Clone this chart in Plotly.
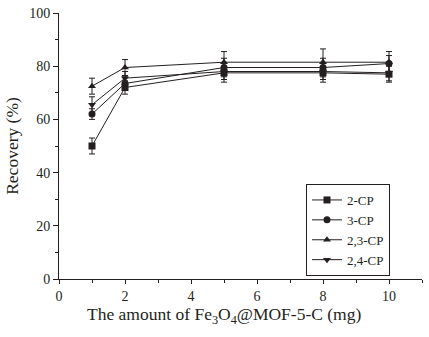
import plotly.graph_objects as go

x_mg = [1, 2, 5, 8, 10]
series_names = ["2-CP", "3-CP", "2,3-CP", "2,4-CP"]
cp2 = [50.0, 72.0, 77.5, 77.5, 77.0]
cp3 = [62.0, 73.5, 79.5, 79.5, 81.0]
cp23 = [72.5, 79.5, 81.5, 81.5, 81.5]
cp24 = [65.5, 75.5, 78.0, 78.0, 77.5]
err2 = [3.0, 2.5, 3.5, 3.5, 3.0]
err3 = [2.0, 2.5, 3.5, 3.5, 3.0]
err23 = [3.0, 3.0, 4.0, 5.0, 4.0]
err24 = [3.0, 2.5, 3.0, 3.0, 3.0]

symbols = ["square", "circle", "triangle-up", "triangle-down"]
values = [cp2, cp3, cp23, cp24]
errors = [err2, err3, err23, err24]

ink = "#231f20"
fig = go.Figure()
for name, sym, y, e in zip(series_names, symbols, values, errors):
    fig.add_trace(go.Scatter(
        x=x_mg, y=y, name=name, mode="lines+markers",
        line=dict(color=ink, width=1),
        marker=dict(symbol=sym, size=7, color=ink),
        error_y=dict(type="data", array=e, visible=True, color=ink, thickness=1, width=3),
    ))

font = "Liberation Serif, Times New Roman, serif"
L, R, T, B = 59, 7, 13, 58
W, H = 429, 337
pw = W - L - R
ph = H - T - B

fig.update_layout(
    width=W, height=H,
    margin=dict(l=L, r=R, t=T, b=B),
    paper_bgcolor="white", plot_bgcolor="white",
    font=dict(family=font, color=ink, size=14),
    showlegend=True,
    legend=dict(x=(306 - L) / pw, y=1 - (184 - T) / ph, xanchor="left", yanchor="top",
                bordercolor=ink, borderwidth=1, bgcolor="white",
                font=dict(size=13, family=font), tracegroupgap=0,
                itemwidth=30),
    xaxis=dict(range=[0, 11], tickvals=[0, 2, 4, 6, 8, 10], ticks="outside", ticklen=4,
               showgrid=False, zeroline=False, showline=True, linecolor=ink, linewidth=1,
               tickcolor=ink, tickfont=dict(size=14),
               minor=dict(tickvals=[1, 3, 5, 7, 9, 11], ticks="outside", ticklen=3, tickcolor=ink)),
    yaxis=dict(range=[0, 100], tickvals=[0, 20, 40, 60, 80, 100], ticks="outside", ticklen=5,
               showgrid=False, zeroline=False, showline=True, linecolor=ink, linewidth=1,
               tickcolor=ink, tickfont=dict(size=14),
               minor=dict(tickvals=[10, 30, 50, 70, 90], ticks="outside", ticklen=3, tickcolor=ink),
               title=dict(text="Recovery (%)", font=dict(size=17.5), standoff=6)),
    annotations=[dict(
        text="The amount of Fe<sub>3</sub>O<sub>4</sub>@MOF-5-C (mg)",
        xref="paper", yref="paper",
        x=(224 - L) / pw, y=-(302 - (T + ph)) / ph,
        xanchor="center", yanchor="top", showarrow=False,
        font=dict(size=17.5, family=font, color=ink),
    )],
)
fig.write_html("out.html")
